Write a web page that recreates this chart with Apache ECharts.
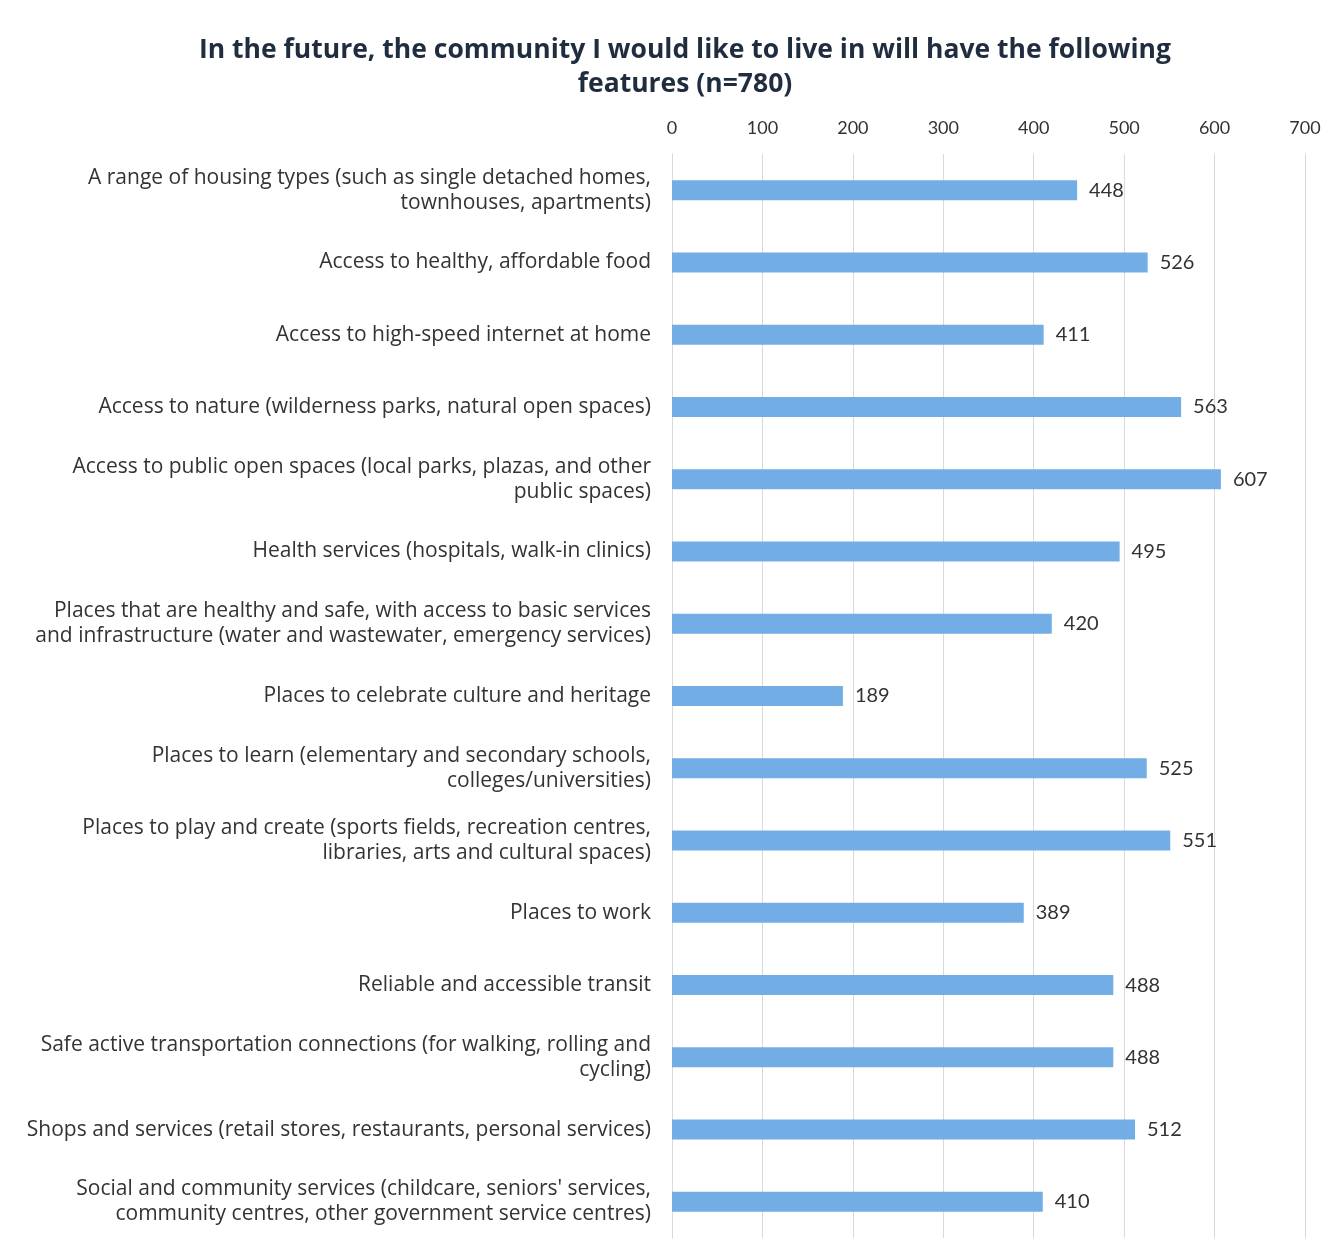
<!DOCTYPE html>
<html><head><meta charset="utf-8">
<script src="https://cdn.jsdelivr.net/npm/echarts@6/dist/echarts.min.js"></script>
<style>html,body{margin:0;padding:0;background:#fff}#c{width:1338px;height:1257px}</style>
</head><body><div id="c"></div>
<script>
const categories = [
  "A range of housing types (such as single detached homes,\ntownhouses, apartments)",
  "Access to healthy, affordable food",
  "Access to high-speed internet at home",
  "Access to nature (wilderness parks, natural open spaces)",
  "Access to public open spaces (local parks, plazas, and other\npublic spaces)",
  "Health services (hospitals, walk-in clinics)",
  "Places that are healthy and safe, with access to basic services\nand infrastructure (water and wastewater, emergency services)",
  "Places to celebrate culture and heritage",
  "Places to learn (elementary and secondary schools,\ncolleges/universities)",
  "Places to play and create (sports fields, recreation centres,\nlibraries, arts and cultural spaces)",
  "Places to work",
  "Reliable and accessible transit",
  "Safe active transportation connections (for walking, rolling and\ncycling)",
  "Shops and services (retail stores, restaurants, personal services)",
  "Social and community services (childcare, seniors' services,\ncommunity centres, other government service centres)"
];
const values = [448, 526, 411, 563, 607, 495, 420, 189, 525, 551, 389, 488, 488, 512, 410];
const xTicks = [0, 100, 200, 300, 400, 500, 600, 700];

const chart = echarts.init(document.getElementById('c'));
chart.setOption({
  backgroundColor: '#fff',
  animation: false,
  title: {
    text: 'In the future, the community I would like to live in will have the following\nfeatures (n=780)',
    left: 680, textAlign: 'center', top: 28,
    textStyle: {fontFamily: 'Open Sans', fontWeight: 'bold', fontSize: 26.5, color: '#1f2d3f', lineHeight: 34}
  },
  grid: {left: 672, right: 33, top: 154, bottom: 19, containLabel: false},
  xAxis: {
    type: 'value', position: 'top', min: 0, max: 700, interval: 100,
    axisLine: {show: false}, axisTick: {show: false},
    axisLabel: {fontFamily: 'Lato', fontSize: 18, color: '#333', margin: 17,
      formatter: v => xTicks.includes(v) ? String(v) : ''},
    splitLine: {lineStyle: {color: '#d9d9d9', width: 1}}
  },
  yAxis: {
    type: 'category', inverse: true, data: categories,
    axisLine: {show: true, lineStyle: {color: '#d9d9d9'}}, axisTick: {show: false},
    axisLabel: {fontFamily: 'Open Sans', fontSize: 21, color: '#333', margin: 21, lineHeight: 25, align: 'right'}
  },
  series: [{
    type: 'bar', data: values, barWidth: 20,
    itemStyle: {color: '#72ade6'},
    label: {show: true, position: 'right', distance: 12, fontFamily: 'Lato', fontSize: 20, color: '#333'}
  }]
});
</script></body></html>
